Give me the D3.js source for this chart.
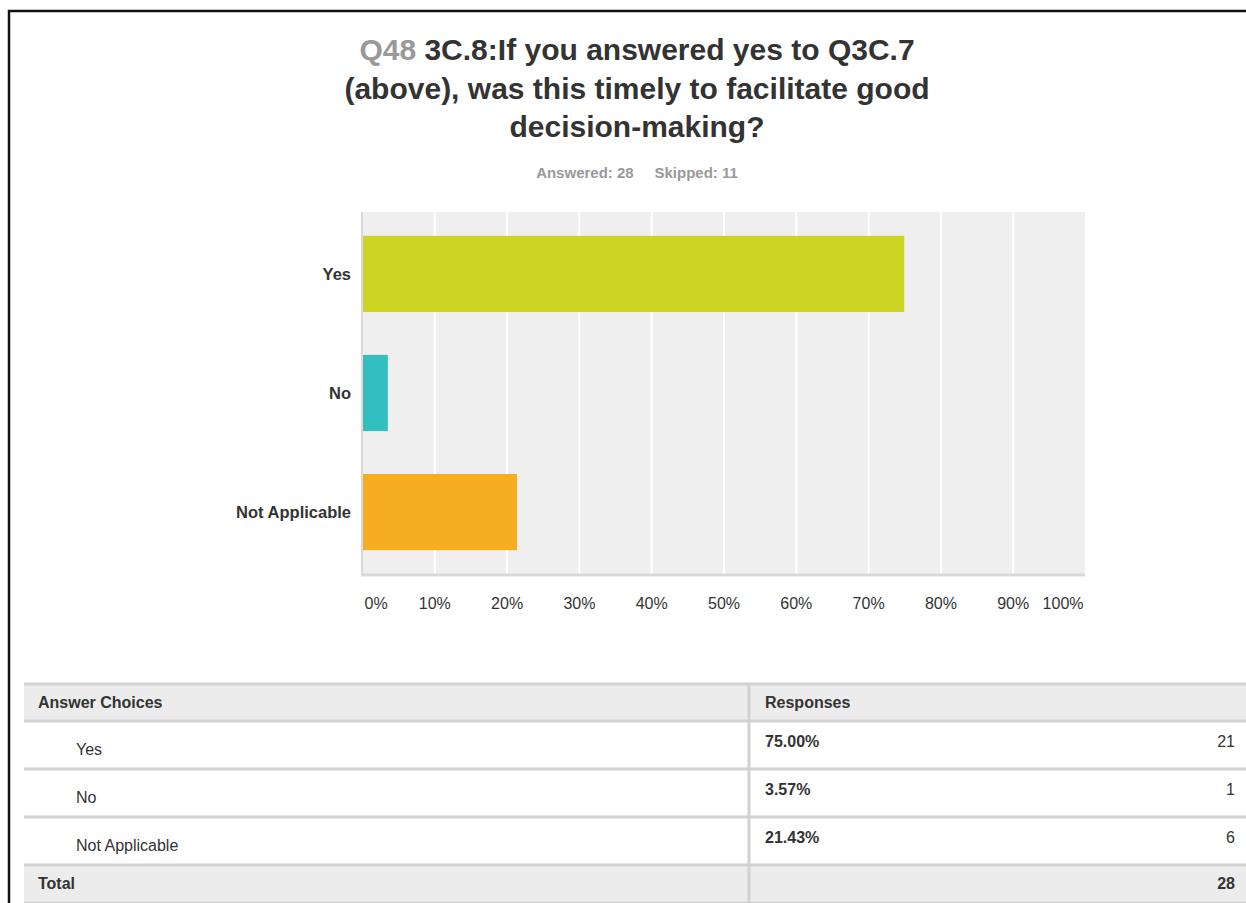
<!DOCTYPE html>
<html>
<head>
<meta charset="utf-8">
<script src="https://cdn.jsdelivr.net/npm/d3@7"></script>
<style>
  body { margin: 0; background: #fff; }
  svg { display: block; font-family: "Liberation Sans", Arial, Helvetica, sans-serif; }
</style>
</head>
<body>
<div id="chart"></div>
<script>
// survey question Q48
const categories = ['Yes', 'No', 'Not Applicable']
const percents = [75.0, 3.57, 21.43]
const counts = [21, 1, 6]
const colors = ['#cdd424', '#33bfc0', '#f6ae20']
const ticks = [0, 10, 20, 30, 40, 50, 60, 70, 80, 90, 100]
const answered = 28
const skipped = 11

const W = 1246
const H = 903

const svg = d3
  .select('#chart')
  .append('svg')
  .attr('width', W)
  .attr('height', H)

// outer frame
svg.append('path')
  .attr('d', 'M9,' + H + ' L9,11 L' + W + ',11')
  .attr('fill', 'none')
  .attr('stroke', '#111')
  .attr('stroke-width', 2.5)

// title
const title = svg.append('text')
  .attr('text-anchor', 'middle')
  .attr('font-size', 30)
  .attr('font-weight', 'bold')
  .attr('fill', '#333')
const titleLines = [
  [['Q48 ', '#999'], ['3C.8:If you answered yes to Q3C.7', '#333']],
  [['(above), was this timely to facilitate good', '#333']],
  [['decision-making?', '#333']]
]
titleLines.forEach((line, i) => {
  line.forEach((part, j) => {
    title.append('tspan')
      .attr('x', j === 0 ? 637 : null)
      .attr('y', j === 0 ? 60 + i * 38.5 : null)
      .attr('fill', part[1])
      .text(part[0])
  })
})

svg.append('text')
  .attr('x', 637)
  .attr('y', 178)
  .attr('text-anchor', 'middle')
  .attr('font-size', 15)
  .attr('font-weight', 'bold')
  .attr('fill', '#999')
  .attr('xml:space', 'preserve')
  .text('Answered: ' + answered + '     Skipped: ' + skipped)

// chart
const x = d3.scaleLinear().domain([0, 100]).range([362, 1085])
const y = d3.scaleBand()
  .domain(categories)
  .range([212, 574])
  .paddingInner(0.36)
  .paddingOuter(0.2)

svg.append('rect')
  .attr('x', x(0))
  .attr('y', 212)
  .attr('width', x(100) - x(0))
  .attr('height', 574 - 212)
  .attr('fill', '#efefef')

// white gridlines
svg.append('g')
  .attr('transform', 'translate(0,212)')
  .call(d3.axisBottom(x).tickValues(ticks.slice(1, -1)).tickSize(574 - 212).tickFormat(''))
  .call(g => g.select('.domain').remove())
  .call(g => g.selectAll('.tick line').attr('stroke', '#fff').attr('stroke-width', 2))

svg.selectAll('.bar')
  .data(categories)
  .enter()
  .append('rect')
  .attr('class', 'bar')
  .attr('x', x(0))
  .attr('y', d => y(d))
  .attr('width', (d, i) => x(percents[i]) - x(0))
  .attr('height', y.bandwidth())
  .attr('fill', (d, i) => colors[i])

// axis lines
svg.append('line')
  .attr('x1', x(0)).attr('x2', x(0))
  .attr('y1', 212).attr('y2', 576)
  .attr('stroke', '#d9d9d9').attr('stroke-width', 2)
svg.append('line')
  .attr('x1', x(0) - 1).attr('x2', x(100))
  .attr('y1', 575).attr('y2', 575)
  .attr('stroke', '#d9d9d9').attr('stroke-width', 3)

// category labels
svg.selectAll('.cat')
  .data(categories)
  .enter()
  .append('text')
  .attr('class', 'cat')
  .attr('x', 351)
  .attr('y', d => y(d) + y.bandwidth() / 2)
  .attr('dy', '0.35em')
  .attr('text-anchor', 'end')
  .attr('font-size', 16.5)
  .attr('font-weight', 'bold')
  .attr('fill', '#333')
  .text(d => d)

// x axis labels
const xAxis = svg.append('g')
  .attr('transform', 'translate(0,595)')
  .call(d3.axisBottom(x).tickValues(ticks).tickSize(0).tickFormat(d => d + '%'))
xAxis.select('.domain').remove()
xAxis.selectAll('.tick text')
  .attr('font-family', '"Liberation Sans", Arial, sans-serif')
  .attr('font-size', 16)
  .attr('fill', '#333')
  .attr('text-anchor', d => d === 0 ? 'start' : d === 100 ? 'end' : 'middle')
  .attr('dx', d => d === 0 ? 2 : d === 100 ? -2 : 0)

// table
const tableLeft = 24
const colX = 749
const rowTop = [684, 721, 769, 817, 865]
const rowBottom = 903

svg.append('rect')
  .attr('x', tableLeft).attr('y', rowTop[0])
  .attr('width', W - tableLeft).attr('height', rowTop[1] - rowTop[0])
  .attr('fill', '#ececec')
svg.append('rect')
  .attr('x', tableLeft).attr('y', rowTop[4])
  .attr('width', W - tableLeft).attr('height', rowBottom - rowTop[4])
  .attr('fill', '#ececec')

svg.selectAll('.hline')
  .data(rowTop.concat([rowBottom]))
  .enter()
  .append('line')
  .attr('class', 'hline')
  .attr('x1', tableLeft).attr('x2', W)
  .attr('y1', d => d).attr('y2', d => d)
  .attr('stroke', '#d2d2d2')
  .attr('stroke-width', 3)

svg.append('line')
  .attr('x1', colX).attr('x2', colX)
  .attr('y1', rowTop[0]).attr('y2', rowBottom)
  .attr('stroke', '#d2d2d2')
  .attr('stroke-width', 3)

const tableText = (tx, ty, txt, bold, anchor) =>
  svg.append('text')
    .attr('x', tx).attr('y', ty)
    .attr('font-size', 16)
    .attr('font-weight', bold ? 'bold' : 'normal')
    .attr('text-anchor', anchor || 'start')
    .attr('fill', '#333')
    .text(txt)

tableText(38, 708, 'Answer Choices', true)
tableText(765, 708, 'Responses', true)

categories.forEach((c, i) => {
  const top = rowTop[i + 1]
  tableText(76, top + 34, c, false)
  tableText(765, top + 26, percents[i].toFixed(2) + '%', true)
  tableText(1235, top + 26, counts[i], false, 'end')
})

tableText(38, 889, 'Total', true)
tableText(1235, 889, d3.sum(counts), true, 'end')
</script>
</body>
</html>
